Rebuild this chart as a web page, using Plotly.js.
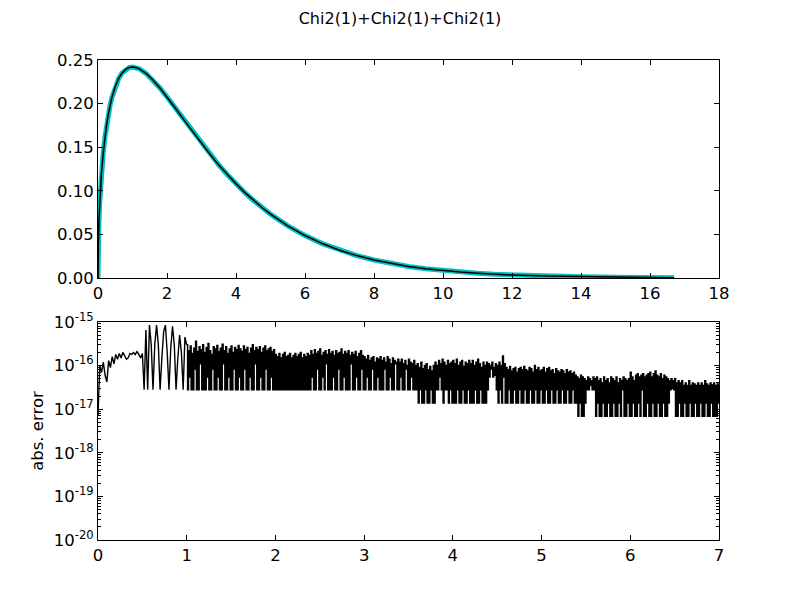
<!DOCTYPE html>
<html>
<head>
<meta charset="utf-8">
<script src="https://cdn.plot.ly/plotly-3.0.1.min.js"></script>
<style>html,body{margin:0;padding:0;background:#fff;}#chart{width:800px;height:600px;}</style>
</head>
<body>
<div id="chart"></div>
<script>
// ---- top panel: density of Chi2(1)+Chi2(1)+Chi2(1) ----
var pdfX = [0, 0.001, 0.003, 0.01, 0.03, 0.05, 0.1, 0.15, 0.2, 0.25, 0.3, 0.35, 0.4, 0.5, 0.6, 0.7, 0.8, 0.9, 1.0, 1.1, 1.2, 1.4, 1.6, 1.8, 2.0, 2.25, 2.5, 2.75, 3.0, 3.25, 3.5, 3.75, 4.0, 4.25, 4.5, 4.75, 5.0, 5.5, 6.0, 6.5, 7.0, 7.5, 8.0, 8.5, 9.0, 9.5, 10.0, 10.5, 11.0, 11.5, 12.0, 13.0, 14.0, 15.0, 16.0, 16.7];
var pdfY = [0, 0.0126, 0.0218, 0.0397, 0.0681, 0.0870, 0.1200, 0.1433, 0.1614, 0.1760, 0.1881, 0.1981, 0.2066, 0.2197, 0.2289, 0.2352, 0.2392, 0.2413, 0.2420, 0.2414, 0.2398, 0.2344, 0.2267, 0.2176, 0.2076, 0.1943, 0.1807, 0.1673, 0.1542, 0.1416, 0.1297, 0.1185, 0.1080, 0.0982, 0.0892, 0.0809, 0.0732, 0.0598, 0.0487, 0.0395, 0.0319, 0.0257, 0.0207, 0.01659, 0.0133, 0.01064, 0.0085, 0.00678, 0.0054, 0.0043, 0.00343, 0.00217, 0.00136, 0.00085, 0.00054, 0.00038];

// ---- bottom panel: absolute error ----
// head: x = 0 .. 0.98, step 0.02
var errHeadStart = 0;
var errHeadStep = 0.02;
var errHeadY = [
  7e-18, 1.0e-16, 7e-17, 1.2e-16, 6e-17, 4.2e-17, 1.3e-16, 9e-17, 1.6e-16, 1.1e-16,
  1.8e-16, 1.4e-16, 1.9e-16, 1.5e-16, 2.0e-16, 1.7e-16, 1.4e-16, 1.5e-16, 1.9e-16, 1.8e-16,
  2.0e-16, 1.8e-16, 2.1e-16, 1.8e-16, 1.5e-16, 1.9e-16,
  2.78e-17, 6.5e-16, 2.78e-17, 8.5e-16, 3e-16, 2.78e-17, 3e-16, 8.5e-16, 3e-16, 2.78e-17,
  1.5e-16, 6e-16, 8.5e-16, 2e-16, 2.78e-17, 2.5e-16, 8e-16, 3e-16, 2.78e-17, 1.5e-16,
  5e-16, 2e-16, 2.78e-17, 4.5e-16
];
// tail: x = 1.00 .. 7.00, step 0.01
var errTailStart = 1.0;
var errTailStep = 0.01;
var errTailY = [
  3.0e-16,2.78e-17, 2.2e-16,5.5e-17, 2.8e-16,2.78e-17, 1.9e-16,2.78e-17, 2.5e-16,8.3e-17, 3.6e-16,2.78e-17, 2.1e-16,2.78e-17, 2.7e-16,1.1e-16, 2.3e-16,2.78e-17, 3.0e-16,2.78e-17,
  2.0e-16,2.78e-17, 2.6e-16,5.5e-17, 3.2e-16,2.78e-17, 2.2e-16,2.78e-17, 1.8e-16,8.3e-17, 2.7e-16,2.78e-17, 2.4e-16,2.78e-17, 2.9e-16,5.5e-17, 2.1e-16,2.78e-17, 2.5e-16,2.78e-17,
  3.1e-16,1.1e-16, 2.2e-16,2.78e-17, 2.7e-16,2.78e-17, 1.9e-16,5.5e-17, 2.4e-16,2.78e-17, 2.8e-16,2.78e-17, 2.0e-16,8.3e-17, 2.6e-16,2.78e-17, 2.3e-16,2.78e-17, 2.9e-16,5.5e-17,
  2.4e-16,2.78e-17, 2.1e-16,2.78e-17, 2.8e-16,8.3e-17, 2.3e-16,2.78e-17, 2.6e-16,2.78e-17, 1.9e-16,5.5e-17, 2.5e-16,2.78e-17, 3.0e-16,2.78e-17, 2.2e-16,1.1e-16, 2.6e-16,2.78e-17,
  2.3e-16,2.78e-17, 2.7e-16,5.5e-17, 2.0e-16,2.78e-17, 2.5e-16,2.78e-17, 2.8e-16,8.3e-17, 2.2e-16,2.78e-17, 2.4e-16,2.78e-17, 2.6e-16,5.5e-17, 2.1e-16,2.78e-17, 2.3e-16,2.78e-17,
  1.8e-16,2.78e-17, 1.6e-16,2.78e-17, 1.9e-16,2.78e-17, 1.5e-16,2.78e-17, 1.8e-16,2.78e-17, 2.0e-16,2.78e-17, 1.6e-16,2.78e-17, 1.7e-16,2.78e-17, 1.9e-16,2.78e-17, 1.5e-16,2.78e-17,
  1.7e-16,2.78e-17, 1.9e-16,2.78e-17, 1.6e-16,2.78e-17, 1.8e-16,2.78e-17, 2.0e-16,2.78e-17, 1.5e-16,2.78e-17, 1.8e-16,2.78e-17, 1.6e-16,2.78e-17, 1.9e-16,2.78e-17, 1.7e-16,2.78e-17,
  2.2e-16,5.5e-17, 1.8e-16,2.78e-17, 2.3e-16,2.78e-17, 1.9e-16,8.3e-17, 2.1e-16,2.78e-17, 2.4e-16,2.78e-17, 1.7e-16,5.5e-17, 2.0e-16,2.78e-17, 2.2e-16,1.1e-16, 1.8e-16,2.78e-17,
  2.3e-16,2.78e-17, 1.9e-16,2.78e-17, 2.1e-16,5.5e-17, 1.7e-16,2.78e-17, 2.2e-16,2.78e-17, 1.9e-16,8.3e-17, 2.0e-16,2.78e-17, 2.4e-16,2.78e-17, 1.8e-16,5.5e-17, 2.1e-16,2.78e-17,
  1.9e-16,2.78e-17, 2.2e-16,2.78e-17, 1.7e-16,1.1e-16, 2.0e-16,2.78e-17, 1.8e-16,2.78e-17, 2.1e-16,5.5e-17, 1.6e-16,2.78e-17, 1.9e-16,2.78e-17, 2.2e-16,8.3e-17, 1.7e-16,2.78e-17,
  1.6e-16,2.78e-17, 1.4e-16,5.5e-17, 1.7e-16,2.78e-17, 1.3e-16,2.78e-17, 1.5e-16,8.3e-17, 1.6e-16,2.78e-17, 1.2e-16,2.78e-17, 1.5e-16,5.5e-17, 1.4e-16,2.78e-17, 1.6e-16,2.78e-17,
  1.3e-16,2.78e-17, 1.5e-16,8.3e-17, 1.2e-16,2.78e-17, 1.6e-16,2.78e-17, 1.4e-16,5.5e-17, 1.1e-16,2.78e-17, 1.5e-16,2.78e-17, 1.3e-16,1.1e-16, 1.2e-16,2.78e-17, 1.4e-16,2.78e-17,
  1.2e-16,5.5e-17, 1.4e-16,2.78e-17, 1.1e-16,2.78e-17, 1.3e-16,8.3e-17, 1.0e-16,2.78e-17, 1.4e-16,2.78e-17, 1.2e-16,5.5e-17, 1.1e-16,2.78e-17, 1.3e-16,2.78e-17, 1.0e-16,2.78e-17,
  1.1e-16,1.39e-17, 9e-17,2.78e-17, 1.2e-16,1.39e-17, 8.5e-17,1.39e-17, 1.0e-16,2.78e-17, 1.1e-16,1.39e-17, 8e-17,1.39e-17, 9.5e-17,2.78e-17, 7.5e-17,1.39e-17, 1.0e-16,1.39e-17,
  1.2e-16,2.78e-17, 1.0e-16,2.78e-17, 1.3e-16,5.5e-17, 1.1e-16,2.78e-17, 1.4e-16,1.39e-17, 1.2e-16,2.78e-17, 1.0e-16,2.78e-17, 1.3e-16,1.39e-17, 1.1e-16,2.78e-17, 1.2e-16,1.39e-17,
  1.3e-16,1.39e-17, 1.1e-16,1.39e-17, 1.4e-16,2.78e-17, 1.0e-16,1.39e-17, 1.2e-16,1.39e-17, 1.3e-16,2.78e-17, 9.5e-17,1.39e-17, 1.2e-16,1.39e-17, 1.1e-16,2.78e-17, 1.3e-16,1.39e-17,
  1.1e-16,1.39e-17, 1.3e-16,1.39e-17, 1.0e-16,2.78e-17, 1.2e-16,1.39e-17, 1.4e-16,1.39e-17, 1.1e-16,2.78e-17, 9e-17,1.39e-17, 1.2e-16,1.39e-17, 1.0e-16,1.39e-17, 1.2e-16,2.78e-17,
  1.1e-16,5.5e-17, 1.0e-16,8.3e-17, 1.2e-16,5.5e-17, 9e-17,6e-17, 1.1e-16,2.78e-17, 1.0e-16,1.39e-17, 1.2e-16,2.78e-17, 1.0e-16,1.39e-17, 1.65e-16,5.5e-17, 1.1e-16,1.39e-17,
  9e-17,1.39e-17, 8e-17,2.78e-17, 9.5e-17,1.39e-17, 7.5e-17,1.39e-17, 8.5e-17,2.78e-17, 9e-17,1.39e-17, 7e-17,1.39e-17, 8.5e-17,2.78e-17, 9e-17,1.39e-17, 8e-17,1.39e-17,
  9.5e-17,2.78e-17, 8e-17,1.39e-17, 7.5e-17,1.39e-17, 9e-17,2.78e-17, 8.5e-17,1.39e-17, 7e-17,1.39e-17, 1.0e-16,2.78e-17, 8e-17,1.39e-17, 9e-17,1.39e-17, 7.5e-17,2.78e-17,
  8e-17,1.39e-17, 9e-17,1.39e-17, 7e-17,2.78e-17, 8.5e-17,1.39e-17, 9e-17,1.39e-17, 7.5e-17,2.78e-17, 8e-17,1.39e-17, 6.5e-17,1.39e-17, 8.5e-17,2.78e-17, 7.5e-17,1.39e-17,
  7e-17,1.39e-17, 8e-17,2.78e-17, 7.5e-17,1.39e-17, 6.5e-17,1.39e-17, 8e-17,2.78e-17, 7e-17,1.39e-17, 7.5e-17,1.39e-17, 6.5e-17,2.78e-17, 7e-17,1.39e-17, 6e-17,1.39e-17,
  5.5e-17,6.9e-18, 5e-17,1.39e-17, 6e-17,6.9e-18, 5.5e-17,6.9e-18, 5e-17,1.39e-17, 4.5e-17,2.78e-17, 5.5e-17,2.78e-17, 5e-17,3.5e-17, 4.5e-17,2.78e-17, 5.5e-17,2.78e-17,
  5e-17,6.9e-18, 5.5e-17,1.39e-17, 4.5e-17,6.9e-18, 5e-17,6.9e-18, 4e-17,1.39e-17, 5.5e-17,6.9e-18, 4.5e-17,6.9e-18, 5e-17,1.39e-17, 4e-17,6.9e-18, 5.5e-17,6.9e-18,
  5e-17,1.39e-17, 4.5e-17,6.9e-18, 5.5e-17,6.9e-18, 4e-17,1.39e-17, 5e-17,6.9e-18, 4.5e-17,2.78e-17, 5.5e-17,6.9e-18, 5e-17,6.9e-18, 4.5e-17,1.39e-17, 5e-17,6.9e-18,
  7e-17,6.9e-18, 5.5e-17,1.39e-17, 4.5e-17,6.9e-18, 6e-17,6.9e-18, 6.5e-17,1.39e-17, 5.5e-17,6.9e-18, 6e-17,2.78e-17, 6.5e-17,6.9e-18, 5.5e-17,6.9e-18, 6e-17,1.39e-17,
  6.5e-17,6.9e-18, 7e-17,6.9e-18, 5.5e-17,1.39e-17, 6.5e-17,6.9e-18, 7.5e-17,6.9e-18, 6e-17,1.39e-17, 5.5e-17,6.9e-18, 6.5e-17,6.9e-18, 5e-17,1.39e-17, 6e-17,6.9e-18,
  5.5e-17,6.9e-18, 5e-17,1.39e-17, 4.5e-17,2.78e-17, 5e-17,3e-17, 4.5e-17,2.78e-17, 5e-17,6.9e-18, 4e-17,6.9e-18, 4.5e-17,1.39e-17, 4e-17,6.9e-18, 4.5e-17,6.9e-18,
  3.5e-17,1.39e-17, 4e-17,6.9e-18, 3.5e-17,6.9e-18, 4.5e-17,1.39e-17, 3.5e-17,6.9e-18, 4e-17,6.9e-18, 3.8e-17,1.39e-17, 3.5e-17,6.9e-18, 4e-17,6.9e-18, 3.5e-17,1.39e-17,
  4e-17,6.9e-18, 3.5e-17,6.9e-18, 4.5e-17,1.39e-17, 3.8e-17,6.9e-18, 3.5e-17,6.9e-18, 4e-17,1.39e-17, 3.6e-17,6.9e-18, 4e-17,6.9e-18, 3.5e-17,6.9e-18, 3.8e-17,1.39e-17,
  3.5e-17
];

// ---- axis tick labels ----
var topXTicks = [0, 2, 4, 6, 8, 10, 12, 14, 16, 18];
var topYTicks = [0, 0.05, 0.10, 0.15, 0.20, 0.25];
var botXTicks = [0, 1, 2, 3, 4, 5, 6, 7];
var botYTicks = [1e-20, 1e-19, 1e-18, 1e-17, 1e-16, 1e-15];
var botYText = ['10<sup>-20</sup>', '10<sup>-19</sup>', '10<sup>-18</sup>', '10<sup>-17</sup>', '10<sup>-16</sup>', '10<sup>-15</sup>'];

var minorLog = [];
for (var e = -20; e < -15; e++) {
  for (var m = 2; m <= 9; m++) minorLog.push(m * Math.pow(10, e));
}

var font = {family: 'DejaVu Sans, sans-serif', size: 16.5, color: '#000'};

var traces = [
  {x: pdfX, y: pdfY, xaxis: 'x', yaxis: 'y', mode: 'lines',
   line: {color: '#00BFBF', width: 5}},
  {x: pdfX, y: pdfY, xaxis: 'x', yaxis: 'y', mode: 'lines',
   line: {color: '#000000', width: 1.5}},
  {x0: errHeadStart, dx: errHeadStep, y: errHeadY.concat([errTailY[0]]), xaxis: 'x2', yaxis: 'y2', mode: 'lines',
   line: {color: '#000000', width: 1.4, simplify: false}},
  {x0: errTailStart, dx: errTailStep, y: errTailY, xaxis: 'x2', yaxis: 'y2', mode: 'lines',
   line: {color: '#000000', width: 1.5, shape: 'hv', simplify: false}}
];

var axBase = {
  showline: true, linecolor: '#000', linewidth: 1, mirror: 'ticks',
  ticks: 'inside', ticklen: 5, tickwidth: 1, tickcolor: '#000',
  showgrid: false, zeroline: false, tickfont: font
};

function ax(extra) { return Object.assign({}, axBase, extra); }

var layout = {
  width: 800, height: 600,
  paper_bgcolor: '#fff', plot_bgcolor: '#fff',
  showlegend: false,
  margin: {l: 98, r: 81, t: 60, b: 60},
  font: font,
  title: {text: 'Chi2(1)+Chi2(1)+Chi2(1)', font: {family: 'DejaVu Sans, sans-serif', size: 16, color: '#000'},
          xref: 'container', x: 0.5, xanchor: 'center', yref: 'container', y: 0.97, yanchor: 'middle'},
  xaxis: ax({domain: [0, 1], anchor: 'y', range: [0, 18], tickmode: 'array', tickvals: topXTicks}),
  yaxis: ax({domain: [0.5458, 1], anchor: 'x', range: [0, 0.25], tickmode: 'array', tickvals: topYTicks, tickformat: '.2f'}),
  xaxis2: ax({domain: [0, 1], anchor: 'y2', range: [0, 7], tickmode: 'array', tickvals: botXTicks}),
  yaxis2: ax({domain: [0, 0.4542], anchor: 'x2', type: 'log', range: [-20, -15],
    tickmode: 'array', tickvals: botYTicks, ticktext: botYText,
    minor: {tickmode: 'array', tickvals: minorLog, ticks: 'inside', ticklen: 3, tickcolor: '#000', showgrid: false},
    title: {text: 'abs. error', font: font, standoff: 6}})
};

Plotly.newPlot('chart', traces, layout, {displayModeBar: false, staticPlot: true});
</script>
</body>
</html>
